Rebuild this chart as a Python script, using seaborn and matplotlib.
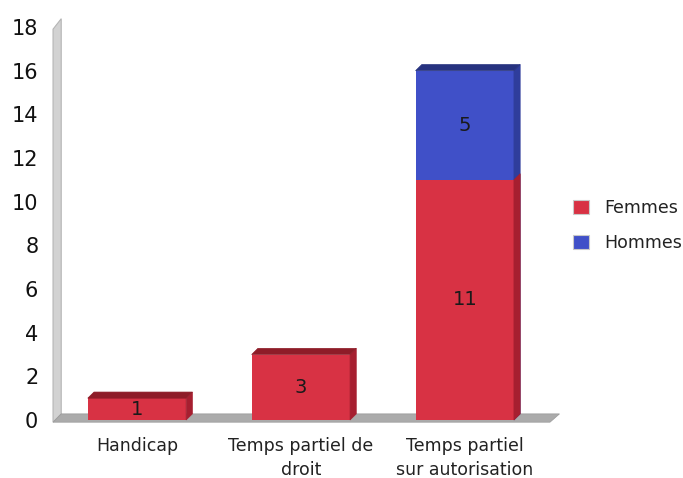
import matplotlib
matplotlib.use("Agg")
import matplotlib.pyplot as plt
from matplotlib.patches import Polygon, Patch
import seaborn as sns
import pandas as pd

categories = ["Handicap", "Temps partiel de\ndroit", "Temps partiel\nsur autorisation"]
femmes = [1, 3, 11]
hommes = [0, 0, 5]
series = ["Femmes", "Hommes"]

RED = "#D83244"
RED_SIDE = "#A61F30"
RED_TOP = "#8E1C28"
BLUE = "#4050C8"
BLUE_SIDE = "#2F3D9C"
BLUE_TOP = "#26327F"

sns.set_style("white")
plt.rcParams["font.family"] = ["DejaVu Sans"]

totals = [f + h for f, h in zip(femmes, hommes)]
df = pd.DataFrame({"cat": categories, "femmes": femmes, "hommes": hommes, "total": totals})

fig = plt.figure(figsize=(6.83, 4.78), dpi=100)
ax = fig.add_axes([55 / 683, 58 / 478, 495 / 683, 393 / 478])

sns.barplot(data=df, x="cat", y="total", color=BLUE, width=0.6, saturation=1, ax=ax, zorder=3,
            linewidth=0)
sns.barplot(data=df, x="cat", y="femmes", color=RED, width=0.6, saturation=1, ax=ax, zorder=4,
            linewidth=0)

ax.set_xlim(-0.5, 2.52)
ax.set_ylim(0, 18)
ax.set_yticks(range(0, 19, 2))
ax.tick_params(axis="y", labelsize=15, length=0, pad=12, colors="#111111")
ax.tick_params(axis="x", labelsize=12.5, length=0, pad=12, colors="#222222")
for lbl in ax.get_xticklabels():
    lbl.set_linespacing(1.45)
ax.set_xlabel("")
ax.set_ylabel("")
for s in ax.spines.values():
    s.set_visible(False)

dx, dy = 0.038, 0.28

# wall and floor
x0, x1 = -0.5, 2.5
wall = Polygon([(x0 - 0.012, -0.1), (x0 + dx, dy), (x0 + dx, 18 + dy + 0.1), (x0 - 0.012, 17.9)], closed=True,
               facecolor="#D2D2D2", edgecolor="#B5B5B5", lw=0.8, clip_on=False, zorder=1)
ax.add_patch(wall)
floor = Polygon([(x0 - 0.012, -0.1), (x1 + 0.02, -0.1), (x1 + dx + 0.04, dy), (x0 + dx, dy)], closed=True,
                facecolor="#ABABAB", edgecolor="#999999", lw=0.5, clip_on=False, zorder=2)
ax.add_patch(floor)

blue_patches = list(ax.containers[0])
red_patches = list(ax.containers[1])

def add_3d(p, side_c, top_c, top=True, z=5):
    x, y = p.get_x(), p.get_y()
    w, h = p.get_width(), p.get_height()
    side = Polygon([(x + w, y), (x + w + dx, y + dy), (x + w + dx, y + h + dy), (x + w, y + h)],
                   closed=True, facecolor=side_c, edgecolor=side_c, lw=0.5, clip_on=False, zorder=z)
    ax.add_patch(side)
    if top:
        tp = Polygon([(x, y + h), (x + dx, y + h + dy), (x + w + dx, y + h + dy), (x + w, y + h)],
                     closed=True, facecolor=top_c, edgecolor=top_c, lw=0.5, clip_on=False, zorder=z)
        ax.add_patch(tp)

for i, (bp, rp) in enumerate(zip(blue_patches, red_patches)):
    if hommes[i] > 0:
        add_3d(bp, BLUE_SIDE, BLUE_TOP, top=True, z=3.5)
        add_3d(rp, RED_SIDE, RED_TOP, top=False, z=4.5)
    else:
        add_3d(rp, RED_SIDE, RED_TOP, top=True, z=4.5)

for i, rp in enumerate(red_patches):
    cx = rp.get_x() + rp.get_width() / 2
    ax.text(cx, femmes[i] / 2, str(femmes[i]), ha="center", va="center", fontsize=14,
            color="#1a1a1a", zorder=10)
    if hommes[i] > 0:
        ax.text(cx, femmes[i] + hommes[i] / 2, str(hommes[i]), ha="center", va="center",
                fontsize=14, color="#1a1a1a", zorder=10)

handles = [Patch(facecolor=RED, edgecolor="#C9C9C9", lw=0.8), Patch(facecolor=BLUE, edgecolor="#C9C9C9", lw=0.8)]
ax.legend(handles, series, loc="center left", bbox_to_anchor=(1.015, 0.495), frameon=False,
          fontsize=12.5, handlelength=0.9, handleheight=0.9, handletextpad=0.9, labelspacing=1.0,
          labelcolor="#222222")

fig.savefig("out.png", dpi=100)
